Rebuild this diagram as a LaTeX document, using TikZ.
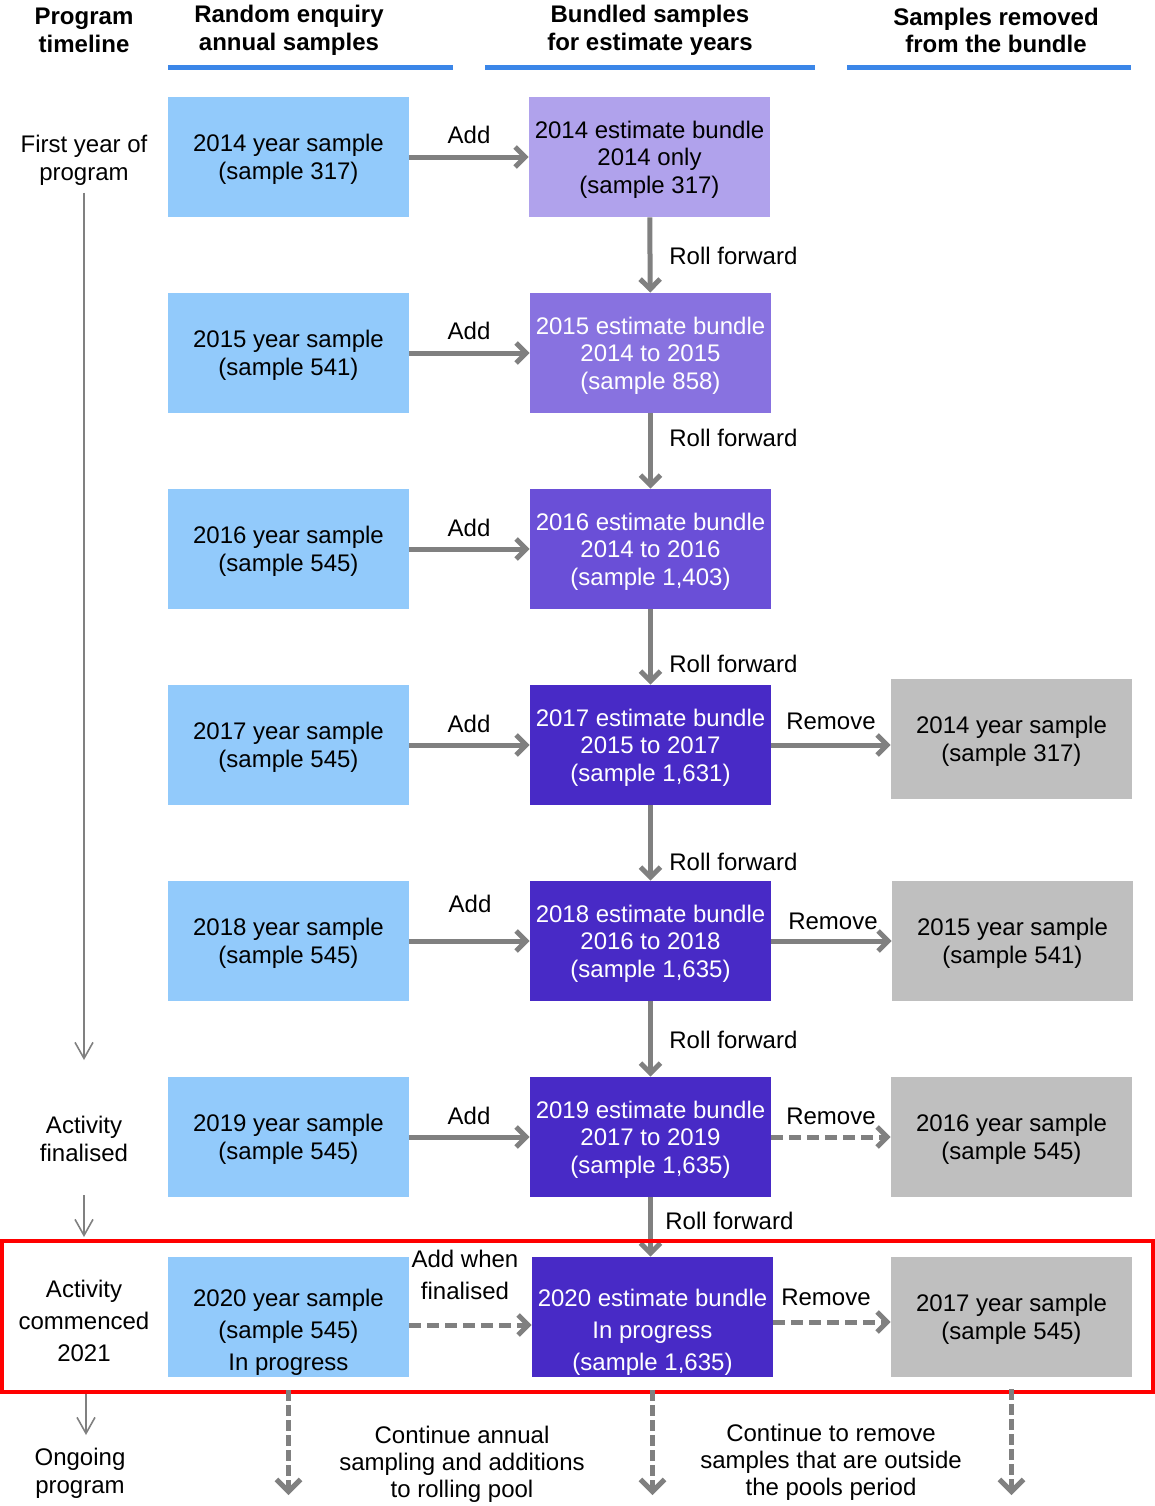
\documentclass[tikz,border=0pt]{standalone}
\usepackage{fontspec}
\setmainfont{Liberation Sans}
\usepackage{tikz}
\usetikzlibrary{arrows.meta}
\definecolor{yearblue}{HTML}{92CAFB}
\definecolor{bundA}{HTML}{B0A2EC}
\definecolor{bundB}{HTML}{8872E0}
\definecolor{bundC}{HTML}{6A4FD7}
\definecolor{bundD}{HTML}{482AC6}
\definecolor{oldgray}{HTML}{BFBFBF}
\definecolor{flowgray}{HTML}{808080}
\definecolor{rulebl}{HTML}{3B86E8}
\tikzset{
    txt/.style={ font=\fontsize{12pt}{13.75pt}\selectfont, align=center },
    head/.style={ txt, font=\fontsize{12pt}{13.75pt}\selectfont\bfseries },
    box/.style={ txt, minimum width=120.5pt, minimum height=60pt, inner sep=0pt, text depth=-0.5pt },
    yearbox/.style={ box, fill=yearblue },
    bundle/.style={ box, fill=#1, text=white, text depth=-1.5pt },
    lowbox/.style={ font=\fontsize{12pt}{16pt}\selectfont, text height=55.6pt, text depth=2.5pt },
    gonebox/.style={ box, fill=oldgray },
    lbl/.style={ txt, inner sep=0pt },
    flow/.style={ draw=flowgray, line width=2.5pt, -{Straight Barb[length=5pt,width=10pt]} },
    dflow/.style={ flow, dash pattern=on 6pt off 3pt },
    goon/.style={ draw=flowgray, line width=2.5pt, dash pattern=on 5.5pt off 2pt, -{Straight Barb[length=6pt,width=12pt]} },
    tline/.style={ draw=flowgray, line width=0.8pt, -{Straight Barb[length=8pt,width=9pt]} },
    topline/.style={ draw=rulebl, line width=2.5pt },
    hilite/.style={ draw=red, line width=2pt }
}
\begin{document}
\begin{tikzpicture}[x=0.5pt,y=-0.5pt]
        %\draw[step=100, very thin, gray, dashed] (0,0) grid (1155,1506);
        \useasboundingbox (0,0) rectangle (1155,1506);

        \node[head] (hprog) at (84,30.5) {Program\\timeline};
        \node[head] (hyear) at (289,30.5) {Random enquiry\\annual samples};
        \node[head] (hbund) at (650,30.5) {Bundled samples\\for estimate years};
        \node[head] (hgone) at (996,30.5) {Samples removed\\from the bundle};
        \draw[topline] (168,67) -- (453,67);
        \draw[topline] (485,67) -- (815,67);
        \draw[topline] (847,67) -- (1131,67);

        \node[yearbox] (y14) at (288.5,157) {2014 year sample\\(sample 317)};
        \node[yearbox] (y15) at (288.5,353) {2015 year sample\\(sample 541)};
        \node[yearbox] (y16) at (288.5,549) {2016 year sample\\(sample 545)};
        \node[yearbox] (y17) at (288.5,745) {2017 year sample\\(sample 545)};
        \node[yearbox] (y18) at (288.5,941) {2018 year sample\\(sample 545)};
        \node[yearbox] (y19) at (288.5,1137) {2019 year sample\\(sample 545)};
        \node[yearbox, lowbox] (y20) at (288.5,1317) {2020 year sample\\(sample 545)\\In progress};

        \node[bundle=bundA, text=black] (b14) at (649.5,157) {2014 estimate bundle\\2014 only\\(sample 317)};
        \node[bundle=bundB] (b15) at (650.5,353) {2015 estimate bundle\\2014 to 2015\\(sample 858)};
        \node[bundle=bundC] (b16) at (650.5,549) {2016 estimate bundle\\2014 to 2016\\(sample 1,403)};
        \node[bundle=bundD] (b17) at (650.5,745) {2017 estimate bundle\\2015 to 2017\\(sample 1,631)};
        \node[bundle=bundD] (b18) at (650.5,941) {2018 estimate bundle\\2016 to 2018\\(sample 1,635)};
        \node[bundle=bundD] (b19) at (650.5,1137) {2019 estimate bundle\\2017 to 2019\\(sample 1,635)};
        \node[bundle=bundD, lowbox] (b20) at (652.5,1317) {2020 estimate bundle\\In progress\\(sample 1,635)};

        \node[gonebox] (r14) at (1011.5,739) {2014 year sample\\(sample 317)};
        \node[gonebox] (r15) at (1012.5,941) {2015 year sample\\(sample 541)};
        \node[gonebox] (r16) at (1011.5,1137) {2016 year sample\\(sample 545)};
        \node[gonebox] (r17) at (1011.5,1317) {2017 year sample\\(sample 545)};

        \draw[flow] (y14) -- (b14);
        \draw[flow] (y15) -- (b15);
        \draw[flow] (y16) -- (b16);
        \draw[flow] (y17) -- (b17);
        \draw[flow] (y18) -- (b18);
        \draw[flow] (y19) -- (b19);
        \draw[dflow] ([yshift=-4pt]y20.east) -- ([yshift=-4pt]y20.east -| b20.west);
        \node[lbl] (add14) at (469,135) {Add};
        \node[lbl] (add15) at (469,331) {Add};
        \node[lbl] (add16) at (469,528) {Add};
        \node[lbl] (add17) at (469,724) {Add};
        \node[lbl] (add18) at (470,904) {Add};
        \node[lbl] (add19) at (469,1116) {Add};
        \node[lbl, font=\fontsize{12pt}{16pt}\selectfont] (add20) at (465,1275) {Add when\\finalised};

        \draw[flow] (b14) -- (b15);
        \draw[flow] (b15) -- (b16);
        \draw[flow] (b16) -- (b17);
        \draw[flow] (b17) -- (b18);
        \draw[flow] (b18) -- (b19);
        \draw[flow] (b19.south) -- (b19.south |- b20.north);
        \node[lbl, anchor=west] (roll15) at (669,256) {Roll forward};
        \node[lbl, anchor=west] (roll16) at (669,438) {Roll forward};
        \node[lbl, anchor=west] (roll17) at (669,664) {Roll forward};
        \node[lbl, anchor=west] (roll18) at (669,862) {Roll forward};
        \node[lbl, anchor=west] (roll19) at (669,1040) {Roll forward};
        \node[lbl, anchor=west] (roll20) at (665,1221) {Roll forward};

        \draw[flow] (b17) -- (b17 -| r14.west);
        \draw[flow] (b18) -- (r15);
        \draw[dflow] (b19) -- (r16);
        \draw[dflow] ([yshift=-2.5pt]b20.east) -- ([yshift=-2.5pt]b20.east -| r17.west);
        \node[lbl] (rem17) at (831,721) {Remove};
        \node[lbl] (rem18) at (833,921) {Remove};
        \node[lbl] (rem19) at (831,1116) {Remove};
        \node[lbl] (rem20) at (826,1297) {Remove};

        % timeline
        \node[txt] (tfirst) at (84,160.5) {First year of\\program};
        \node[txt] (tfin) at (84,1139) {Activity\\finalised};
        \node[txt, font=\fontsize{12pt}{16pt}\selectfont] (tcom) at (84,1321) {Activity\\commenced\\2021};
        \node[txt] (tgo) at (80,1473.5) {Ongoing\\program};
        \coordinate (tend) at (84,1060);
        \coordinate (tf1) at (84,1195);
        \coordinate (tf2) at (84,1237);
        \coordinate (tc1) at (86,1392);
        \coordinate (tc2) at (86,1435);
        \draw[tline] (tfirst.south) -- (tend);
        \draw[tline] (tf1) -- (tf2);
        \draw[tline] (tc1) -- (tc2);

        \draw[hilite] (2,1241) rectangle (1153,1392);

        % ongoing
        \coordinate (dn) at (0,1495);
        \draw[goon] ([yshift=-6.5pt]y20.south) -- (y20.south |- dn);
        \draw[goon] ([yshift=-6.5pt]b20.south) -- (b20.south |- dn);
        \draw[goon] ([yshift=-6pt]r17.south) -- (r17.south |- dn);
        \node[txt, font=\fontsize{12pt}{13.5pt}\selectfont] (more) at (462,1464) {Continue annual\\sampling and additions\\to rolling pool};
        \node[txt, font=\fontsize{12pt}{13.5pt}\selectfont] (less) at (831,1462) {Continue to remove\\samples that are outside\\the pools period};
    \end{tikzpicture}
\end{document}
